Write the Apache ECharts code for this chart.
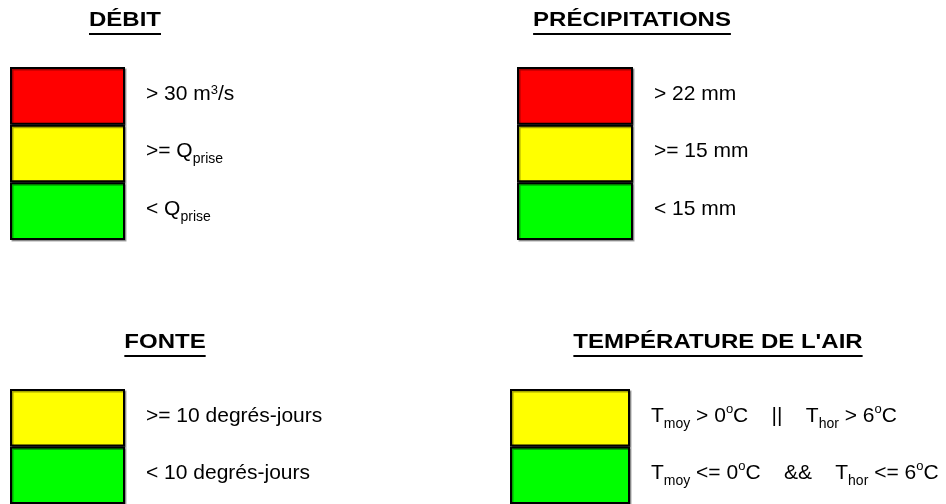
<!DOCTYPE html>
<html>
<head>
<meta charset="utf-8">
<script src="https://cdn.jsdelivr.net/npm/echarts@6/dist/echarts.min.js"></script>
<style>
  html, body { margin: 0; padding: 0; background: #fff; }
  #box { width: 946px; height: 504px; }
</style>
</head>
<body>
<div id="box"></div>
<script>
// panel titles
const titles = ['DÉBIT', 'PRÉCIPITATIONS', 'FONTE', "TEMPÉRATURE DE L'AIR"];

// each band is one unit tall, listed top to bottom
const debitBands = [1, 1, 1];
const debitColors = ['#ff0000', '#ffff00', '#00ff00'];
const debitLabels = ['> 30 m{sup|3}/s', '>= Q{sub|prise}', '< Q{sub|prise}'];

const precipBands = [1, 1, 1];
const precipColors = ['#ff0000', '#ffff00', '#00ff00'];
const precipLabels = ['> 22 mm', '>= 15 mm', '< 15 mm'];

const fonteBands = [1, 1];
const fonteColors = ['#ffff00', '#00ff00'];
const fonteLabels = ['>= 10 degrés-jours', '< 10 degrés-jours'];

const tempBands = [1, 1];
const tempColors = ['#ffff00', '#00ff00'];
const tempLabels = [
  'T{sub|moy} > 0{deg|o}C    ||    T{sub|hor} > 6{deg|o}C',
  'T{sub|moy} <= 0{deg|o}C    &&    T{sub|hor} <= 6{deg|o}C'
];

const FONT = '"Liberation Sans", Arial, sans-serif';

const panels = [
  { bands: debitBands, colors: debitColors, labels: debitLabels, grid: { left: 10, top: 67, width: 115, height: 173 }, title: [125, 20] },
  { bands: precipBands, colors: precipColors, labels: precipLabels, grid: { left: 517, top: 67, width: 116, height: 173 }, title: [632, 20] },
  { bands: fonteBands, colors: fonteColors, labels: fonteLabels, grid: { left: 10, top: 389, width: 115, height: 116 }, title: [165, 342] },
  { bands: tempBands, colors: tempColors, labels: tempLabels, grid: { left: 510, top: 389, width: 120, height: 116 }, title: [718, 342] }
];

function measure(text, font) {
  let ctx = document.createElement('canvas').getContext('2d');
  ctx.font = font;
  return ctx.measureText(text).width;
}

let myChart = echarts.init(document.getElementById('box'));

let grids = [], xAxes = [], yAxes = [], series = [], graphics = [];

panels.forEach((p, i) => {
  grids.push(Object.assign({ containLabel: false }, p.grid));
  xAxes.push({ gridIndex: i, type: 'category', data: [''], show: false });
  yAxes.push({
    gridIndex: i, type: 'value', min: 0,
    max: p.bands.reduce((a, b) => a + b, 0),
    inverse: true, show: false
  });
  p.bands.forEach((v, j) => {
    series.push({
      type: 'bar',
      xAxisIndex: i,
      yAxisIndex: i,
      stack: 'panel' + i,
      barWidth: '100%',
      data: [v],
      silent: true,
      itemStyle: {
        color: p.colors[j],
        borderColor: '#000',
        borderWidth: 2,
        shadowColor: 'rgba(0,0,0,0.35)',
        shadowOffsetX: 1.5,
        shadowOffsetY: 1.5
      },
      label: {
        show: true,
        position: 'right',
        distance: 21,
        offset: [0, -2],
        formatter: p.labels[j],
        color: '#000',
        fontSize: 21,
        fontFamily: FONT,
        lineHeight: 30,
        rich: {
          sub: { fontSize: 14, lineHeight: 14, verticalAlign: 'bottom', color: '#000', fontFamily: FONT },
          sup: { fontSize: 13, lineHeight: 13, verticalAlign: 'top', padding: [5, 0, 0, 0], color: '#000', fontFamily: FONT },
          deg: { fontSize: 13, lineHeight: 13, verticalAlign: 'top', padding: [2, 0, 0, 0], color: '#000', fontFamily: FONT }
        }
      }
    });
  });

  // underlined titles
  let w = measure(titles[i], 'bold 20px ' + FONT);
  graphics.push({
    type: 'group',
    x: p.title[0],
    y: p.title[1],
    scaleX: 1.2,
    silent: true,
    children: [
      {
        type: 'text',
        x: 0, y: 0,
        style: {
          text: titles[i],
          font: 'bold 20px ' + FONT,
          fill: '#000',
          textAlign: 'center',
          textVerticalAlign: 'middle'
        }
      },
      {
        type: 'rect',
        shape: { x: -w / 2, y: 13, width: w, height: 2 },
        style: { fill: '#000' }
      }
    ]
  });
});

let option = {
  animation: false,
  backgroundColor: '#fff',
  grid: grids,
  xAxis: xAxes,
  yAxis: yAxes,
  series: series,
  graphic: graphics
};
myChart.setOption(option);
</script>
</body>
</html>
